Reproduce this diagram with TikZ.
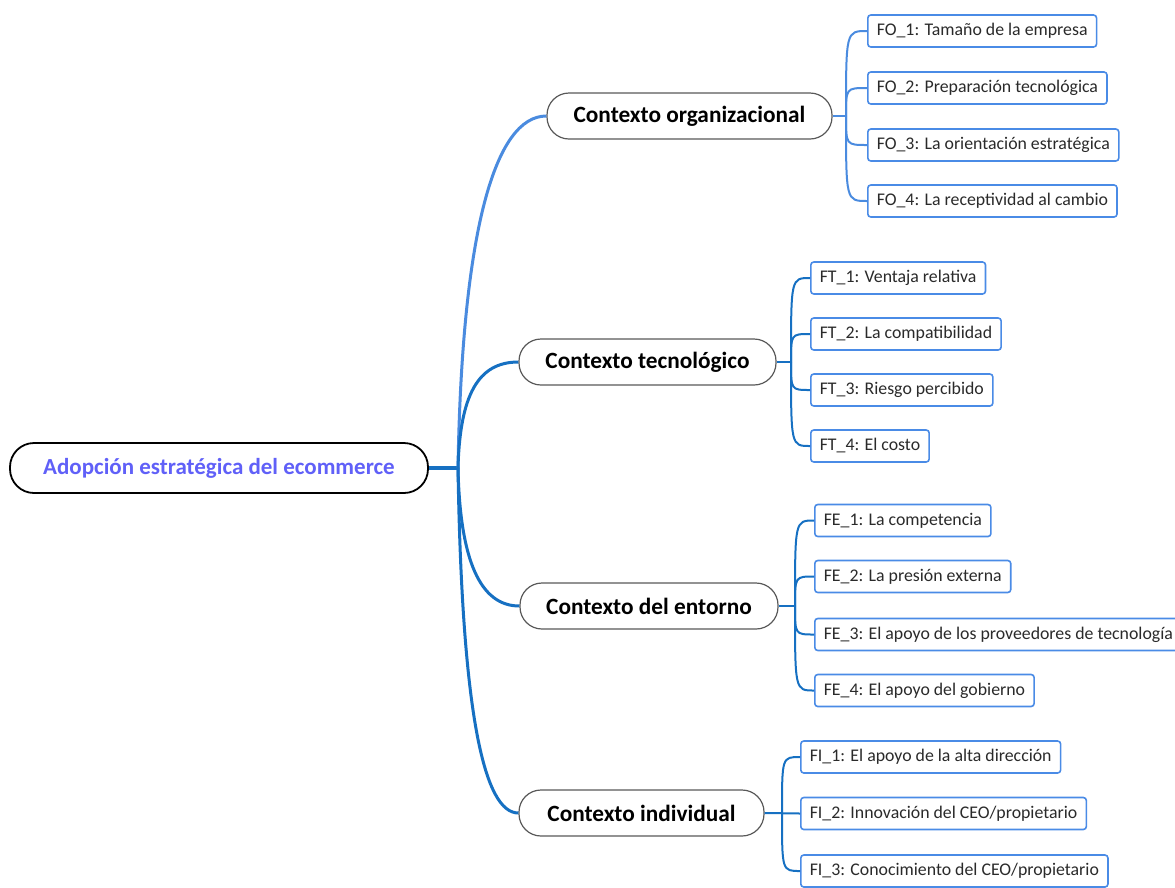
\documentclass[tikz,border=0pt]{standalone}
\usepackage{fontspec}
\setmainfont{Carlito}
\definecolor{lblue}{HTML}{4A8BDF}
\definecolor{dblue}{HTML}{1670C2}
\definecolor{rootc}{HTML}{6060F8}
\definecolor{boxb}{HTML}{4A8BE6}
\definecolor{leaftxt}{HTML}{2A2A2A}
\tikzset{
  rootbox/.style={draw=black, line width=1.8pt, rounded corners=24pt, fill=white,
    minimum width=418pt, minimum height=50pt, inner sep=0pt,
    font=\fontsize{23}{27}\selectfont\bfseries, text=rootc},
  ctxbox/.style={draw=black!65, line width=1.2pt, rounded corners=22pt, fill=white,
    minimum height=46pt, inner sep=0pt, font=\fontsize{23.3}{27}\selectfont\bfseries},
  leafbox/.style={draw=boxb, line width=1.6pt, rounded corners=3pt, fill=white,
    minimum height=32pt, inner xsep=9pt, inner ysep=0pt, anchor=west,
    text=leaftxt, font=\fontsize{17.8}{21}\selectfont},
  mainline/.style={line width=3pt},
  leafline/.style={line width=2pt},
}
\begin{document}
\begin{tikzpicture}[x=1pt,y=-1pt]
\useasboundingbox (0,0) rectangle (1175,887);
\clip (0,0) rectangle (1175,887);
\coordinate (J0) at (458,468);
\coordinate (JO) at (846,116);
\coordinate (JT) at (791,362);
\coordinate (JE) at (795,606);
\coordinate (JI) at (782,813);

\node[rootbox] (root) at (219,468) {Adopción estratégica del ecommerce};
\node[ctxbox, minimum width=285pt] (co) at (689.5,116) {Contexto organizacional};
\node[ctxbox, minimum width=257pt] (ct) at (647.5,362) {Contexto tecnológico};
\node[ctxbox, minimum width=258pt] (ce) at (649,606) {Contexto del entorno};
\node[ctxbox, minimum width=245pt] (ci) at (641.5,813) {Contexto individual};

\node[leafbox] (fo1) at (867,31) {FO\_1: Tamaño de la empresa};
\node[leafbox] (fo2) at (867,88) {FO\_2: Preparación tecnológica};
\node[leafbox] (fo3) at (867,145) {FO\_3: La orientación estratégica};
\node[leafbox] (fo4) at (867,201) {FO\_4: La receptividad al cambio};

\node[leafbox] (ft1) at (810,278) {FT\_1: Ventaja relativa};
\node[leafbox] (ft2) at (810,334) {FT\_2: La compatibilidad};
\node[leafbox] (ft3) at (810,390) {FT\_3: Riesgo percibido};
\node[leafbox] (ft4) at (810,446) {FT\_4: El costo};

\node[leafbox] (fe1) at (814,520.5) {FE\_1: La competencia};
\node[leafbox] (fe2) at (814,576.5) {FE\_2: La presión externa};
\node[leafbox] (fe3) at (814,634.5) {FE\_3: El apoyo de los proveedores de tecnología};
\node[leafbox] (fe4) at (814,690.5) {FE\_4: El apoyo del gobierno};

\node[leafbox] (fi1) at (800,757) {FI\_1: El apoyo de la alta dirección};
\node[leafbox] (fi2) at (800,813.5) {FI\_2: Innovación del CEO/propietario};
\node[leafbox] (fi3) at (800,871) {FI\_3: Conocimiento del CEO/propietario};

% root to contexts
\draw[mainline, dblue, line width=3.5pt] (root.east) -- (J0);
\draw[mainline, lblue] (J0) .. controls (462,230) and (495,116) .. (co.west);
\draw[mainline, dblue] (J0) .. controls (460,395) and (478,362) .. (ct.west);
\draw[mainline, dblue] (J0) .. controls (460,560) and (480,606) .. (ce.west);
\draw[mainline, dblue] (J0) .. controls (462,720) and (485,813) .. (ci.west);

% organizacional
\draw[leafline, lblue] (co.east) -- (JO);
\foreach \n in {fo1,fo2,fo3,fo4}{
  \draw[leafline, lblue] (JO) .. controls (JO |- \n.west) .. (\n.west);
}
% tecnologico
\draw[leafline, dblue] (ct.east) -- (JT);
\foreach \n in {ft1,ft2,ft3,ft4}{
  \draw[leafline, dblue] (JT) .. controls (JT |- \n.west) .. (\n.west);
}
% entorno
\draw[leafline, dblue] (ce.east) -- (JE);
\foreach \n in {fe1,fe2,fe3,fe4}{
  \draw[leafline, dblue] (JE) .. controls (JE |- \n.west) .. (\n.west);
}
% individual
\draw[leafline, dblue] (ci.east) -- (fi2.west);
\foreach \n in {fi1,fi3}{
  \draw[leafline, dblue] (JI) .. controls (JI |- \n.west) .. (\n.west);
}
\end{tikzpicture}
\end{document}
